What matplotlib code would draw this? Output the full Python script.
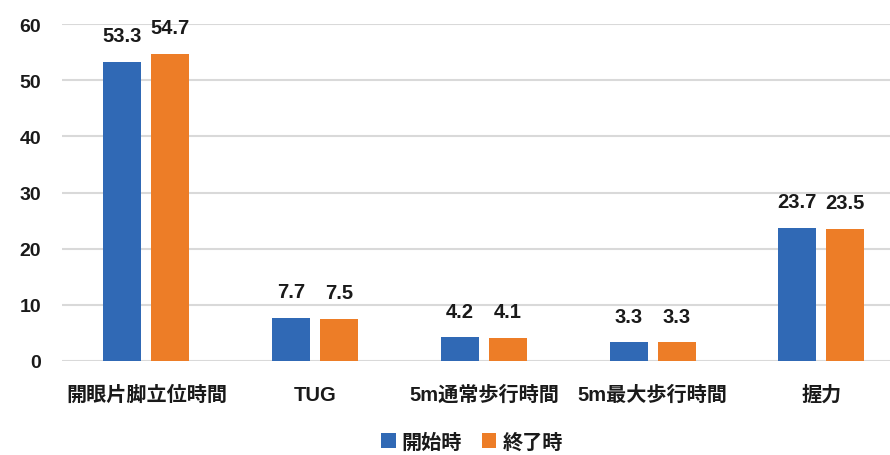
import matplotlib
matplotlib.use("Agg")
import matplotlib.pyplot as plt
import numpy as np

plt.rcParams['font.family'] = ['Liberation Sans', 'Noto Sans CJK JP', 'DejaVu Sans']

categories = ["開眼片脚立位時間", "TUG", "5m通常歩行時間", "5m最大歩行時間", "握力"]
start_vals = [53.3, 7.7, 4.2, 3.3, 23.7]
end_vals = [54.7, 7.5, 4.1, 3.3, 23.5]
series_names = ["開始時", "終了時"]
yticks = [0, 10, 20, 30, 40, 50, 60]

blue = "#3069B5"
orange = "#ED7D27"
txt = "#1a1a1a"

W, H = 890, 456
fig = plt.figure(figsize=(W / 100, H / 100), dpi=100)
left_px, right_px = 62, 890
bottom_px, top_px = 362, 25
ax = fig.add_axes([left_px / W, (H - bottom_px) / H,
                   (right_px - left_px) / W, (bottom_px - top_px) / H])

x = np.arange(len(categories))
bw = 0.225
off = 0.142
b1 = ax.bar(x - off, start_vals, bw, color=blue, label=series_names[0], zorder=3)
b2 = ax.bar(x + off, end_vals, bw, color=orange, label=series_names[1], zorder=3)

for bars, vals in ((b1, start_vals), (b2, end_vals)):
    for rect, v in zip(bars, vals):
        ax.annotate(f"{v:.1f}", (rect.get_x() + rect.get_width() / 2, v),
                    xytext=(0, 15), textcoords="offset points",
                    ha="center", va="baseline", fontsize=14.5, fontweight="bold",
                    color=txt, annotation_clip=False)

group_px = 168.75
ax.set_xlim(-0.5, -0.5 + (right_px - left_px) / group_px)
ax.set_ylim(0, 60)
ax.set_yticks(yticks)
ax.set_yticklabels([str(t) for t in yticks], fontsize=14, fontweight="bold", color=txt)
ax.set_xticks(x)
ax.set_xticklabels(categories, fontsize=14.5, fontweight="bold", color=txt)
ax.tick_params(axis="y", length=0, pad=15)
ax.tick_params(axis="x", length=0, pad=17)
ax.grid(axis="y", color="#D9D9D9", linewidth=1.5, zorder=0)
ax.set_axisbelow(True)
for s in ax.spines.values():
    s.set_visible(False)

leg = fig.legend(handles=[b1, b2], labels=series_names, loc="center",
                 bbox_to_anchor=(472 / W, 1 - 443 / H), ncol=2, frameon=False,
                 prop={"size": 14.5, "weight": "bold"}, handlelength=0.7,
                 handleheight=0.7, handletextpad=0.3, columnspacing=1.0)
for t in leg.get_texts():
    t.set_color(txt)

fig.savefig("out.png", dpi=100)
